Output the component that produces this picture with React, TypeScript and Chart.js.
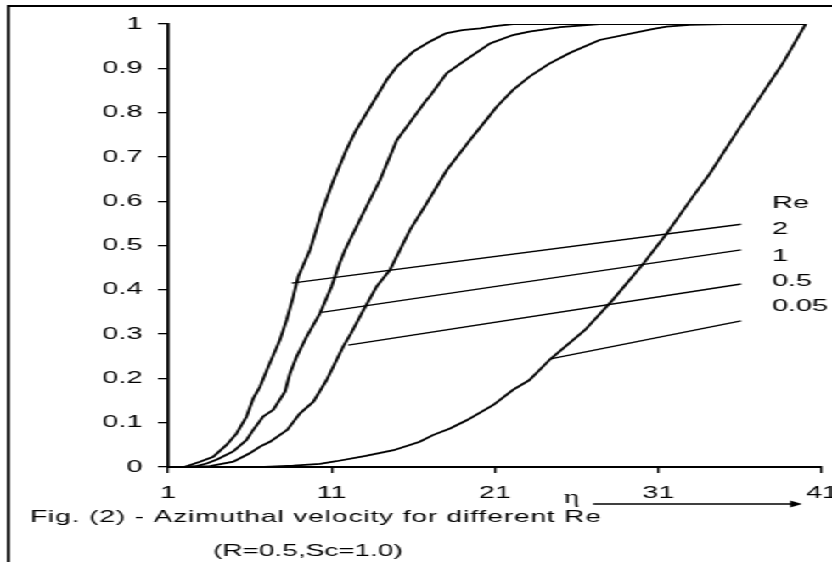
import { useEffect, useRef } from 'react';
import { Chart, registerables } from 'chart.js';

Chart.register(...registerables);

// ---- data ----
const etaRe2 = [1, 2, 2.96, 3.77, 4.59, 5.2, 5.81, 6.22, 6.63, 7.13, 7.85, 8.26, 8.66, 8.97, 9.69, 10.4, 11.1, 11.9, 12.5, 12.95, 13.76, 14.4, 15.0, 16.0, 17.0, 18.0, 19.0, 20.1, 21.0, 22.1, 30, 40];
const velRe2 = [0, 0, 0.012, 0.023, 0.05, 0.076, 0.114, 0.155, 0.181, 0.226, 0.287, 0.332, 0.384, 0.43, 0.49, 0.575, 0.645, 0.715, 0.76, 0.787, 0.836, 0.875, 0.904, 0.9375, 0.96, 0.979, 0.986, 0.99, 0.995, 1.0, 1.0, 1.0];

const etaRe1 = [1, 2.0, 2.75, 3.37, 4.0, 4.99, 5.8, 6.22, 6.83, 7.44, 8.16, 8.46, 8.87, 9.48, 10.3, 11.0, 11.5, 11.83, 12.9, 13.97, 15.0, 15.6, 16.8, 17.0, 18.05, 19.06, 20.7, 22.1, 23.1, 25.0, 27.4, 40];
const velRe1 = [0, 0, 0.002, 0.008, 0.017, 0.035, 0.061, 0.084, 0.114, 0.129, 0.17, 0.211, 0.249, 0.294, 0.347, 0.407, 0.46, 0.49, 0.57, 0.648, 0.738, 0.768, 0.828, 0.836, 0.889, 0.915, 0.956, 0.975, 0.983, 0.993, 1.0, 1.0];

const etaRe05 = [1, 2.0, 3.57, 5.0, 6.0, 6.63, 7.24, 8.3, 9.07, 9.89, 10.7, 11.1, 11.72, 12.2, 12.95, 13.76, 14.58, 15.19, 15.8, 16.82, 18.05, 19.47, 20.5, 21.1, 22.1, 23.1, 24.3, 25.6, 27.4, 30.7, 31.5, 32.9, 35.0, 40];
const velRe05 = [0, 0, 0.002, 0.012, 0.031, 0.046, 0.057, 0.084, 0.121, 0.147, 0.196, 0.226, 0.272, 0.302, 0.354, 0.407, 0.445, 0.49, 0.535, 0.595, 0.67, 0.738, 0.785, 0.813, 0.851, 0.881, 0.91, 0.935, 0.964, 0.989, 0.994, 0.998, 1.0, 1.0];

const etaRe005 = [1, 6.9, 8.66, 10.3, 11.3, 13.1, 14.8, 16.4, 17.2, 18.25, 19.3, 20.9, 22.1, 23.1, 24.4, 26.5, 28.2, 30.1, 31.5, 33.1, 34.15, 36.0, 38.6, 40.0];
const velRe005 = [0, 0, 0.003, 0.007, 0.013, 0.025, 0.038, 0.057, 0.072, 0.087, 0.106, 0.14, 0.174, 0.196, 0.244, 0.309, 0.377, 0.46, 0.527, 0.61, 0.663, 0.768, 0.911, 1.0];

// leader lines from each curve to its Re label
const leaderStartEta = [8.57, 10.4, 12.03, 24.4];
const leaderStartVel = [0.415, 0.349, 0.275, 0.244];
const leaderEndEta = [36.05, 36.05, 36.05, 36.05];
const leaderEndVel = [0.548, 0.49, 0.413, 0.33];

const reTitle = 'Re';
const reLabels = ['2', '1', '0.5', '0.05'];
const reTitleVel = 0.596;
const reLabelVel = [0.536, 0.476, 0.42, 0.363];
const reLabelEta = 37.94;

const xTicks = [1, 11, 21, 31, 41];
const yTicks = [0, 0.1, 0.2, 0.3, 0.4, 0.5, 0.6, 0.7, 0.8, 0.9, 1];

const caption1 = 'Fig. (2) - Azimuthal velocity for different Re';
const caption2 = '(R=0.5,Sc=1.0)';
const axisSymbol = 'η';
const symbolEta = 25.7;
const arrowStartEta = 27.0;
const arrowEndEta = 39.78;

// ---- layout ----
const STRETCH = 1.698;
const CW = 490;
const CH = 562;
const FONT = "'Liberation Sans', Arial, sans-serif";

const toPts = (xs: number[], ys: number[]) => xs.map((x, i) => ({ x, y: ys[i] }));

export default function App() {
  const ref = useRef<HTMLCanvasElement | null>(null);

  useEffect(() => {
    const canvas = ref.current;
    if (!canvas) return;

    const curveStyle = {
      borderColor: '#000',
      borderWidth: 1.8,
      pointRadius: 0,
      fill: false,
      tension: 0,
      showLine: true,
    };

    const datasets: any[] = [
      { ...curveStyle, label: 'Re=2', data: toPts(etaRe2, velRe2) },
      { ...curveStyle, label: 'Re=1', data: toPts(etaRe1, velRe1) },
      { ...curveStyle, label: 'Re=0.5', data: toPts(etaRe05, velRe05) },
      { ...curveStyle, label: 'Re=0.05', data: toPts(etaRe005, velRe005) },
    ];
    leaderStartEta.forEach((e, i) => {
      datasets.push({
        ...curveStyle,
        borderWidth: 1.4,
        label: 'leader ' + reLabels[i],
        data: [
          { x: e, y: leaderStartVel[i] },
          { x: leaderEndEta[i], y: leaderEndVel[i] },
        ],
      });
    });

    const textPlugin = {
      id: 'annot',
      afterDraw(chart: any) {
        const { ctx, scales } = chart;
        const xs = scales.x;
        const ys = scales.y;
        ctx.save();
        ctx.fillStyle = '#000';
        ctx.strokeStyle = '#000';

        // Re labels
        ctx.font = `17px ${FONT}`;
        ctx.textAlign = 'left';
        ctx.textBaseline = 'middle';
        const lx = xs.getPixelForValue(reLabelEta);
        ctx.fillText(reTitle, lx, ys.getPixelForValue(reTitleVel));
        reLabels.forEach((t, i) => ctx.fillText(t, lx, ys.getPixelForValue(reLabelVel[i])));

        // eta symbol and arrow
        const ay = 504;
        ctx.font = `18px 'Liberation Serif', 'DejaVu Serif', serif`;
        ctx.textAlign = 'center';
        ctx.textBaseline = 'alphabetic';
        ctx.fillText(axisSymbol, xs.getPixelForValue(symbolEta), ay - 1);
        const ax0 = xs.getPixelForValue(arrowStartEta);
        const ax1 = xs.getPixelForValue(arrowEndEta);
        ctx.lineWidth = 1.6;
        ctx.beginPath();
        ctx.moveTo(ax0, ay);
        ctx.lineTo(ax1 - 5, ay);
        ctx.stroke();
        ctx.beginPath();
        ctx.moveTo(ax1, ay);
        ctx.lineTo(ax1 - 7, ay - 3.5);
        ctx.lineTo(ax1 - 7, ay + 3.5);
        ctx.closePath();
        ctx.fill();

        // captions
        ctx.font = `16.5px ${FONT}`;
        ctx.textAlign = 'left';
        ctx.textBaseline = 'alphabetic';
        (ctx as any).letterSpacing = '0.53px';
        ctx.fillText(caption1, 17.7, 522);
        (ctx as any).letterSpacing = '0px';
        ctx.fillText(caption2, 125.4, 556);

        // frame
        ctx.fillRect(4, 5, CW, 2);
        ctx.fillRect(4, 5, 1.8, CH);
        ctx.restore();
      },
    };

    const chart = new Chart(canvas, {
      type: 'scatter',
      data: { datasets },
      options: {
        animation: false,
        responsive: false,
        devicePixelRatio: 1,
        events: [],
        layout: {
          autoPadding: false,
          padding: { left: 0, top: 24, right: CW - 484.1, bottom: 0 },
        },
        plugins: {
          legend: { display: false },
          tooltip: { enabled: false },
        },
        scales: {
          x: {
            type: 'linear',
            min: 1,
            max: 41,
            afterBuildTicks: (s: any) => {
              s.ticks = xTicks.map((v) => ({ value: v }));
            },
            afterFit: (s: any) => {
              s.height = 95;
              s.paddingLeft = 0;
              s.paddingRight = 0;
              s.paddingTop = 0;
              s.paddingBottom = 0;
            },
            grid: {
              drawOnChartArea: false,
              drawTicks: true,
              tickLength: 6,
              color: '#000',
              lineWidth: 1.3,
            },
            border: { display: true, color: '#000', width: 2 },
            ticks: {
              color: '#000',
              font: { family: FONT, size: 17 },
              padding: 10,
              maxRotation: 0,
              autoSkip: false,
              callback: (v: any) => String(v),
            },
          },
          y: {
            type: 'linear',
            min: 0,
            max: 1,
            afterBuildTicks: (s: any) => {
              s.ticks = yTicks.map((v) => ({ value: v }));
            },
            afterFit: (s: any) => {
              s.width = 98.9;
              s.paddingLeft = 0;
              s.paddingRight = 0;
              s.paddingTop = 0;
              s.paddingBottom = 0;
            },
            grid: {
              drawOnChartArea: false,
              drawTicks: true,
              tickLength: 5.9,
              color: '#000',
              lineWidth: 1.3,
            },
            border: { display: true, color: '#000', width: 1.8 },
            ticks: {
              color: '#000',
              font: { family: FONT, size: 17 },
              padding: 9,
              autoSkip: false,
              callback: (v: any) => String(Math.round(v * 10) / 10),
            },
          },
        },
      },
      plugins: [textPlugin],
    } as any);

    return () => chart.destroy();
  }, []);

  return (
    <div
      style={{
        position: 'fixed',
        left: 0,
        top: 0,
        width: CW,
        height: CH,
        transform: `scaleX(${STRETCH})`,
        transformOrigin: '0 0',
        background: '#fff',
      }}
    >
      <canvas ref={ref} width={CW} height={CH} style={{ display: 'block', width: CW, height: CH }} />
    </div>
  );
}
